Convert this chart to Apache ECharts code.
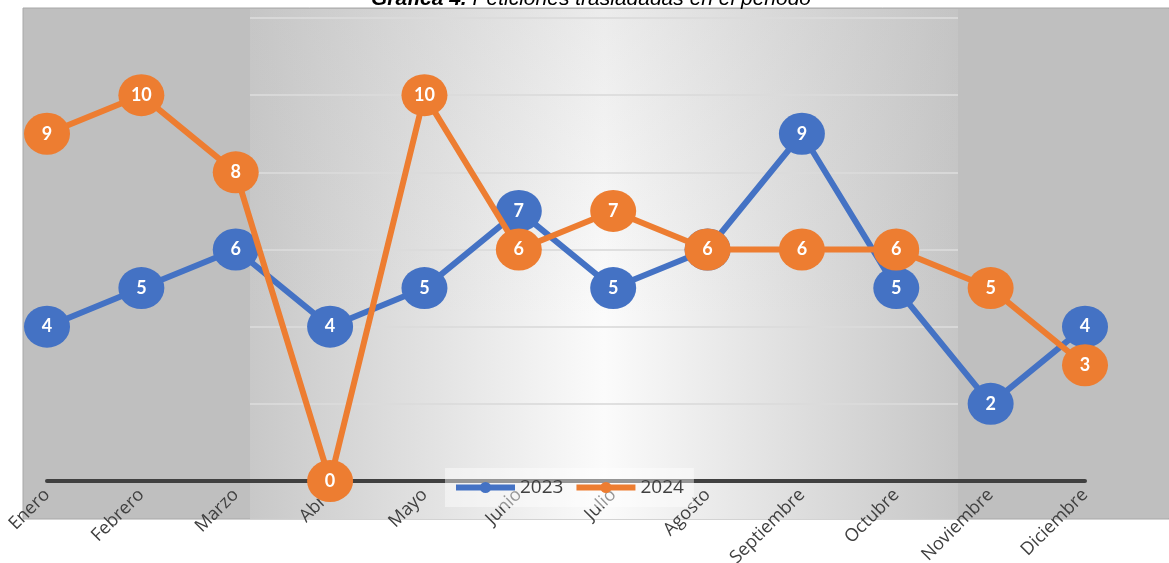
<!DOCTYPE html>
<html>
<head>
<meta charset="utf-8">
<script src="https://cdn.jsdelivr.net/npm/echarts@6/dist/echarts.min.js"></script>
<style>
html,body{margin:0;padding:0;background:#fff;}
#chart{width:1169px;height:563px;}
</style>
</head>
<body>
<div id="chart"></div>
<script>
const months = ['Enero','Febrero','Marzo','Abril','Mayo','Junio','Julio','Agosto','Septiembre','Octubre','Noviembre','Diciembre'];
const values2023 = [4,5,6,4,5,7,5,6,9,5,2,4];
const values2024 = [9,10,8,0,10,6,7,6,6,6,5,3];
const seriesNames = ['2023','2024'];
const titleText = '{b|Gráfica 4.} Peticiones trasladadas en el periodo';

const chart = echarts.init(document.getElementById('chart'));
const labelStyle = {show:true, position:'inside', color:'#fff', fontFamily:'Lato', fontWeight:'bold', fontSize:18};
chart.setOption({
  animation:false,
  graphic:[
    {type:'rect', z:-10, shape:{x:23,y:8,width:1146,height:511}, style:{fill:'#bfbfbf', stroke:'#a8a8a8', lineWidth:1}},
    {type:'rect', z:-9, shape:{x:250,y:9,width:708,height:510}, style:{fill:new echarts.graphic.LinearGradient(0,0,1,0,[
      {offset:0,color:'#c8c8c8'},{offset:0.5,color:'#fbfbfb'},{offset:1,color:'#c6c6c6'}])}},
    {type:'rect', z:-8, shape:{x:250,y:9,width:708,height:510}, style:{fill:new echarts.graphic.LinearGradient(0,0,0,1,[
      {offset:0,color:'rgba(190,190,190,0.25)'},{offset:0.6,color:'rgba(190,190,190,0)'},{offset:1,color:'rgba(190,190,190,0)'}])}},
    {type:'rect', z:1, shape:{x:24,y:9,width:226,height:509}, style:{fill:'#bfbfbf'}},
    {type:'rect', z:1, shape:{x:958,y:9,width:211,height:509}, style:{fill:'#bfbfbf'}},
    {type:'text', z:5, style:{text:titleText, x:591, y:10, align:'center', verticalAlign:'bottom',
      fontFamily:'Liberation Sans', fontStyle:'italic', fontSize:21, fill:'#000',
      rich:{b:{fontWeight:'bold', fontStyle:'italic', fontFamily:'Liberation Sans', fontSize:21, fill:'#000'}}}}
  ],
  grid:{left:47, right:84, top:18, bottom:82, containLabel:false, outerBoundsMode:'none'},
  legend:{
    data:seriesNames, left:445, top:468, z:4,
    backgroundColor:'rgba(255,255,255,0.45)', padding:[10,10,10,8],
    itemWidth:59, itemHeight:14, itemGap:10,
    lineStyle:{width:6},
    textStyle:{fontFamily:'Open Sans', fontSize:19, color:'#404040'}
  },
  xAxis:{
    type:'category', data:months, boundaryGap:false, z:3,
    axisLine:{lineStyle:{color:'#404040', width:4}},
    axisTick:{show:false},
    axisLabel:{rotate:45, margin:11, fontFamily:'Open Sans', fontSize:18, color:'#404040'}
  },
  yAxis:{
    type:'value', min:0, max:12, interval:2, z:0,
    axisLabel:{show:false}, axisLine:{show:false}, axisTick:{show:false},
    splitLine:{lineStyle:{color:'rgba(218,218,218,0.85)', width:2}}
  },
  series:[
    {name:seriesNames[0], type:'line', data:values2023, z:5, symbol:'circle', symbolSize:[46,42],
     color:'#4472C4', lineStyle:{width:6, color:'#4472C4'}, itemStyle:{color:'#4472C4'}, label:labelStyle},
    {name:seriesNames[1], type:'line', data:values2024, z:6, symbol:'circle', symbolSize:[46,42],
     color:'#ED7D31', lineStyle:{width:6, color:'#ED7D31'}, itemStyle:{color:'#ED7D31'}, label:labelStyle}
  ]
});
</script>
</body>
</html>
